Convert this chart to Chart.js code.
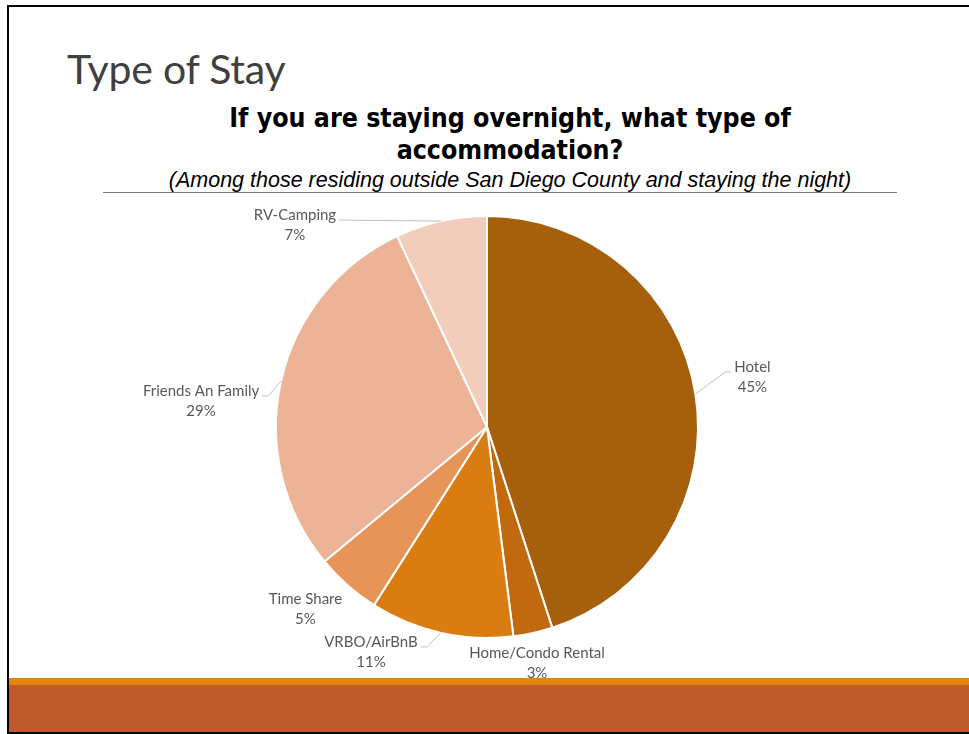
<!DOCTYPE html>
<html>
<head>
<meta charset="utf-8">
<script src="https://cdn.jsdelivr.net/npm/chart.js@4.4.1/dist/chart.umd.min.js"></script>
<style>
  html, body { margin: 0; padding: 0; background: #ffffff; }
  body { width: 969px; height: 734px; position: relative; overflow: hidden; }
  #frame { position: absolute; left: 7px; top: 5px; width: 980px; height: 725px;
           border-left: 2px solid #000; border-top: 2px solid #000; border-bottom: 2px solid #000; }
  #band1 { position: absolute; left: 9px; top: 678px; width: 960px; height: 7px; background: #E5830F; }
  #band2 { position: absolute; left: 9px; top: 685px; width: 960px; height: 47px; background: #BE5A2C; }
  #slideTitle { position: absolute; left: 67px; top: 45px; font-family: Lato, "Open Sans", sans-serif;
                font-weight: 400; font-size: 41px; color: #404040; line-height: 48px; white-space: nowrap;
                letter-spacing: -0.2px; }
  #chartTitle { position: absolute; left: 0; width: 1020px; top: 102px; text-align: center;
                font-family: "DejaVu Sans Condensed", "DejaVu Sans", sans-serif; font-weight: bold;
                font-size: 26.5px; line-height: 32px; color: #000; }
  #subTitle { position: absolute; left: 0; width: 1020px; top: 168px; text-align: center;
              font-family: "Liberation Sans Narrow", "Liberation Sans", sans-serif; font-style: italic;
              font-size: 21.5px; line-height: 24px; color: #000; white-space: nowrap; }
  #rule { position: absolute; left: 103px; top: 192px; width: 794px; height: 1px; background: #7f7f7f; }
  #pie { position: absolute; left: 0; top: 0; }
</style>
</head>
<body>
<div id="frame"></div>
<div id="band1"></div>
<div id="band2"></div>
<div id="slideTitle">Type of Stay</div>
<div id="chartTitle">If you are staying overnight, what type of<br>accommodation?</div>
<div id="subTitle">(Among those residing outside San Diego County and staying the night)</div>
<div id="rule"></div>
<canvas id="pie" width="969" height="734"></canvas>
<script>
// Accommodation types, clockwise from 12 o'clock
const categories = ['Hotel', 'Home/Condo Rental', 'VRBO/AirBnB', 'Time Share', 'Friends An Family', 'RV-Camping'];
// Share of overnight visitors (%)
const shares = [45, 3, 11, 5, 29, 7];
const sliceColors = ['#A65F0A', '#C0690E', '#D97D12', '#E69458', '#EDB396', '#F2CDBC'];

// Where each label block sits, relative to the outer-edge midpoint of its slice,
// and whether a leader line connects it.
const labelPlacement = [
  { dx: 57, dy: -17, leader: true },
  { dx: 4, dy: 30, leader: false },
  { dx: -70, dy: 19, leader: true },
  { dx: -42, dy: 24, leader: false },
  { dx: -80, dy: 20, leader: true },
  { dx: -146, dy: 4, leader: true }
];

const sliceLabels = {
  id: 'sliceLabels',
  afterDatasetsDraw(chart) {
    const ctx = chart.ctx;
    const arcs = chart.getDatasetMeta(0).data;
    ctx.save();
    ctx.font = '15px Lato, "Open Sans", sans-serif';
    ctx.textAlign = 'center';
    ctx.textBaseline = 'middle';
    arcs.forEach((arc, i) => {
      const p = arc.getProps(['x', 'y', 'startAngle', 'endAngle', 'outerRadius'], true);
      const mid = (p.startAngle + p.endAngle) / 2;
      const ex = p.x + Math.cos(mid) * p.outerRadius;
      const ey = p.y + Math.sin(mid) * p.outerRadius;
      const place = labelPlacement[i];
      const cx = ex + place.dx;
      const cy = ey + place.dy;
      const name = categories[i];
      const pct = shares[i] + '%';
      const y1 = cy - 10, y2 = cy + 10;
      if (place.leader) {
        const half = Math.max(ctx.measureText(name).width, ctx.measureText(pct).width) / 2;
        const right = cx < ex;
        const ax = right ? cx + half + 3 : cx - half - 3;
        const ay = y1 + 5;
        const bx = right ? ax + 6 : ax - 6;
        ctx.strokeStyle = '#BFBFBF';
        ctx.lineWidth = 1;
        ctx.beginPath();
        ctx.moveTo(ex, ey);
        ctx.lineTo(bx, ay);
        ctx.lineTo(ax, ay);
        ctx.stroke();
      }
      ctx.fillStyle = '#595959';
      ctx.fillText(name, cx, y1);
      ctx.fillText(pct, cx, y2);
    });
    ctx.restore();
  }
};

new Chart(document.getElementById('pie'), {
  type: 'pie',
  data: {
    labels: categories,
    datasets: [{
      data: shares,
      backgroundColor: sliceColors,
      borderColor: '#ffffff',
      borderWidth: 2
    }]
  },
  options: {
    responsive: false,
    animation: false,
    events: [],
    layout: { padding: { left: 275, right: 270, top: 215, bottom: 95 } },
    plugins: { legend: { display: false }, tooltip: { enabled: false }, title: { display: false } }
  },
  plugins: [sliceLabels]
});
</script>
</body>
</html>
